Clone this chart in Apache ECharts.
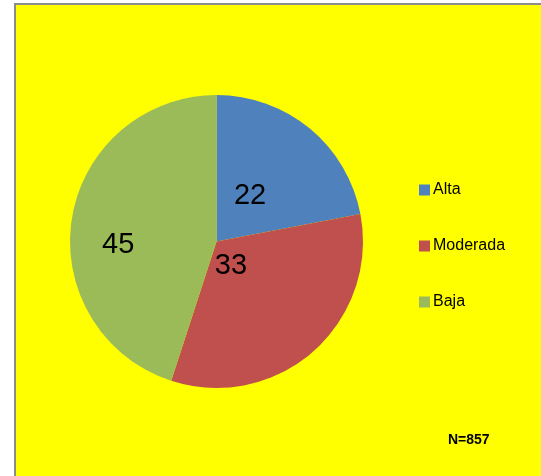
<!DOCTYPE html>
<html>
<head>
<meta charset="utf-8">
<script src="https://cdn.jsdelivr.net/npm/echarts@6/dist/echarts.min.js"></script>
<style>
  html, body { margin: 0; padding: 0; background: #ffffff; }
  #chart { width: 541px; height: 476px; }
</style>
</head>
<body>
<div id="chart"></div>
<script>
// Risk level shares (%)
const categories = ['Alta', 'Moderada', 'Baja'];
const values = [22, 33, 45];
const sampleNote = 'N=857';

// Slice colours and hand-tuned label nudges (best-fit placement)
const sliceColors = ['#4F81BD', '#C0504D', '#9BBB59'];
const labelOffsets = [[-15, 13], [-36, -33], [-23, 15]];

const chart = echarts.init(document.getElementById('chart'), null, { renderer: 'canvas' });

const pieData = categories.map((name, i) => ({
  name: name,
  value: values[i],
  itemStyle: { color: sliceColors[i] },
  label: { offset: labelOffsets[i] }
}));

chart.setOption({
  animation: false,
  backgroundColor: '#ffffff',
  graphic: [
    {
      type: 'rect',
      z: -10,
      shape: { x: 15, y: 4, width: 560, height: 500 },
      style: { fill: '#FFFF00', stroke: '#8c8c8c', lineWidth: 2 }
    },
    {
      type: 'text',
      left: 448,
      top: 433,
      style: {
        text: sampleNote,
        fill: '#000000',
        font: 'bold 14px "Liberation Sans", Arial, sans-serif'
      }
    }
  ],
  legend: {
    orient: 'vertical',
    left: 414,
    top: 177,
    itemWidth: 11,
    itemHeight: 11,
    itemGap: 40,
    icon: 'rect',
    textStyle: {
      color: '#000000',
      fontSize: 16,
      fontFamily: '"Liberation Sans", Arial, sans-serif',
      padding: [0, 0, 0, -2]
    },
    data: categories
  },
  series: [
    {
      type: 'pie',
      center: [216.5, 241.5],
      radius: [0, 146.5],
      startAngle: 90,
      clockwise: true,
      silent: true,
      label: {
        show: true,
        position: 'inside',
        formatter: '{c}',
        color: '#000000',
        fontSize: 29,
        fontFamily: '"Liberation Sans", Arial, sans-serif'
      },
      labelLine: { show: false },
      itemStyle: { borderWidth: 0 },
      data: pieData
    }
  ]
});
</script>
</body>
</html>
